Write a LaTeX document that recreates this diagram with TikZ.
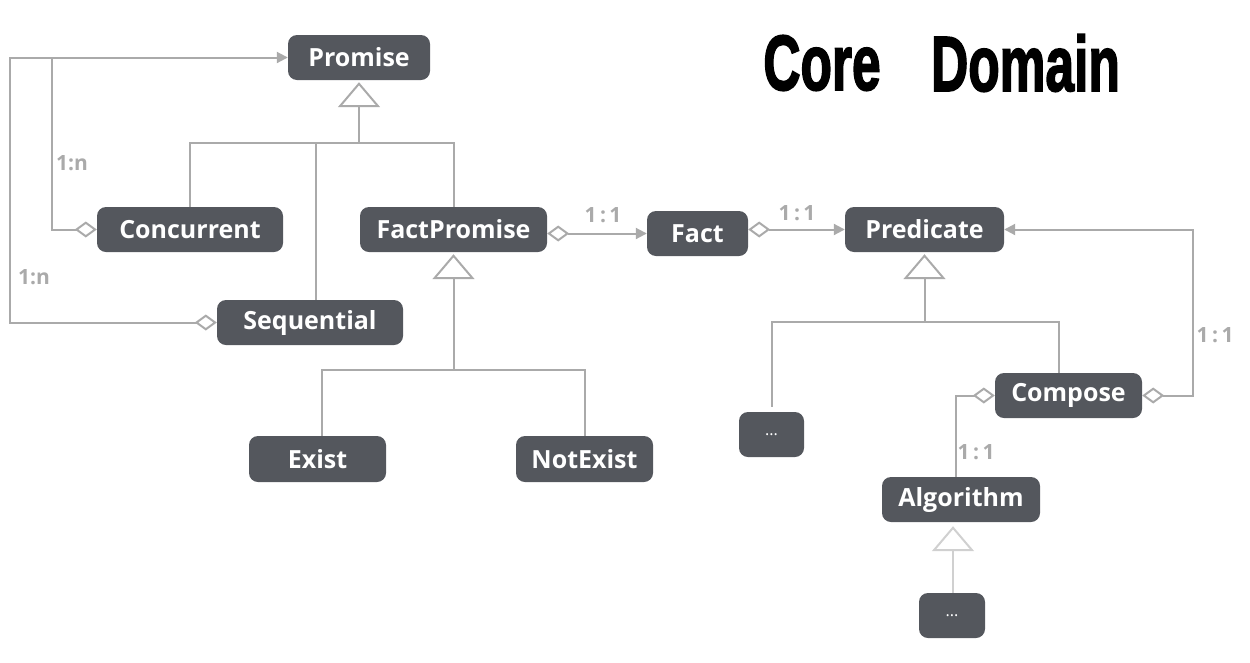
\documentclass[tikz,border=0pt]{standalone}
\usepackage{fontspec}
\usepackage{graphicx}
\usetikzlibrary{arrows.meta}
\newfontfamily\boxfont{Open Sans}
\newfontfamily\titlefont[BoldFeatures={FakeBold=2.5}]{Liberation Sans}
\definecolor{boxc}{HTML}{54575D}
\definecolor{lc}{HTML}{AAAAAA}
\definecolor{lightc}{HTML}{D0D0D0}
\tikzset{
  cls/.style={rounded corners=9pt, fill=boxc, text=white, inner sep=0pt,
    minimum height=45pt, font=\boxfont\bfseries\fontsize{25}{28}\selectfont},
  dotsbox/.style={cls, font=\boxfont\fontsize{16}{18}\selectfont},
  conn/.style={draw=lc, line width=2pt},
  inh/.style={conn, -{Triangle[open,length=25pt,width=42pt,line width=2pt]}, shorten >=2pt},
  dia/.style={conn, {Diamond[open,length=22pt,width=16pt,line width=2pt]}-},
  agg/.style={conn, {Diamond[open,length=22pt,width=16pt,line width=2pt]}-{Triangle[length=11pt,width=11pt]}},
  mult/.style={text=lc, inner sep=0pt, font=\boxfont\bfseries\fontsize{21}{24}\selectfont},
}
\begin{document}
\begin{tikzpicture}[x=1pt,y=-1pt]
\useasboundingbox (0,0) rectangle (1250,662);
% title
\node[inner sep=0pt, font=\titlefont\bfseries\fontsize{78}{80}\selectfont] (tcore) at (822,63) {\scalebox{0.66}[1]{Core}};
\node[inner sep=0pt, font=\titlefont\bfseries\fontsize{78}{80}\selectfont] (tdom) at (1025.5,63) {\scalebox{0.66}[1]{Domain}};
% classes
\node[cls, minimum width=142pt] (Promise) at (359,57.5) {Promise};
\node[cls, minimum width=186pt] (Concurrent) at (190,229.5) {Concurrent};
\node[cls, minimum width=187pt] (FactPromise) at (453.5,229.5) {FactPromise};
\node[cls, minimum width=101pt] (Fact) at (697.5,233.5) {Fact};
\node[cls, minimum width=159pt] (Predicate) at (924.5,229.5) {Predicate};
\node[cls, minimum width=186pt] (Sequential) at (310,322.5) {Sequential};
\node[cls, minimum width=137pt, minimum height=46pt] (Exist) at (317.5,459) {Exist};
\node[cls, minimum width=137pt, minimum height=46pt] (NotExist) at (584.5,459) {NotExist};
\node[dotsbox, minimum width=65pt] (dotsA) at (771.5,434.5) {...};
\node[cls, minimum width=147pt] (Compose) at (1068.5,395.5) {Compose};
\node[cls, minimum width=158pt] (Algorithm) at (961,499.5) {Algorithm};
\node[dotsbox, minimum width=66pt] (dotsB) at (952,615.5) {...};
% junctions
\coordinate (jP) at (359,143);
\coordinate (jS) at (316,143);
\coordinate (jC) at (52,57.5);
\coordinate (jL) at (10,57.5);
\coordinate (jF) at (453.5,370);
\coordinate (jPr) at (924.5,322);
\coordinate (jR) at (1193,395.5);
% Promise hierarchy
\draw[conn] (Concurrent.north) |- (jP);
\draw[conn] (FactPromise.north) |- (jP);
\draw[conn] ([xshift=6pt]Sequential.north) -- (jS);
\draw[inh] (jP) -- (Promise.south);
% aggregations to Promise
\draw[dia] (Concurrent.west) -| (jC);
\draw[agg] (Sequential.west) -| (jL) -- (Promise.west);
\node[mult] (m1) at (72,163) {1:n};
\node[mult] (m2) at (34,277) {1:n};
% FactPromise -> Fact -> Predicate
\draw[agg] (FactPromise.east |- Fact.west) -- (Fact.west);
\draw[agg] (Fact.east |- Predicate.west) -- (Predicate.west);
\node[mult] (m3) at (603,215) {1\,:\,1};
\node[mult] (m4) at (797,213) {1\,:\,1};
% FactPromise hierarchy
\draw[conn] ([xshift=4.5pt]Exist.north) |- (jF);
\draw[conn] (NotExist.north) |- (jF);
\draw[inh] (jF) -- (FactPromise.south);
% Predicate hierarchy
\draw[conn, shorten <=5pt] (dotsA.north) |- (jPr);
\draw[conn] ([xshift=-9.5pt]Compose.north) |- (jPr);
\draw[inh] (jPr) -- (Predicate.south);
% Compose -> Predicate
\draw[agg] (Compose.east) -- (jR) |- (Predicate.east);
\node[mult] (m5) at (1215,335) {1\,:\,1};
% Algorithm -> Compose
\draw[dia] (Compose.west) -| ([xshift=-5pt]Algorithm.north);
\node[mult] (m6) at (976,452) {1\,:\,1};
% Algorithm hierarchy
\draw[inh, draw=lightc, shorten >=4pt] ([xshift=1pt]dotsB.north) -- ([xshift=1pt]dotsB.north |- Algorithm.south);
\end{tikzpicture}
\end{document}
